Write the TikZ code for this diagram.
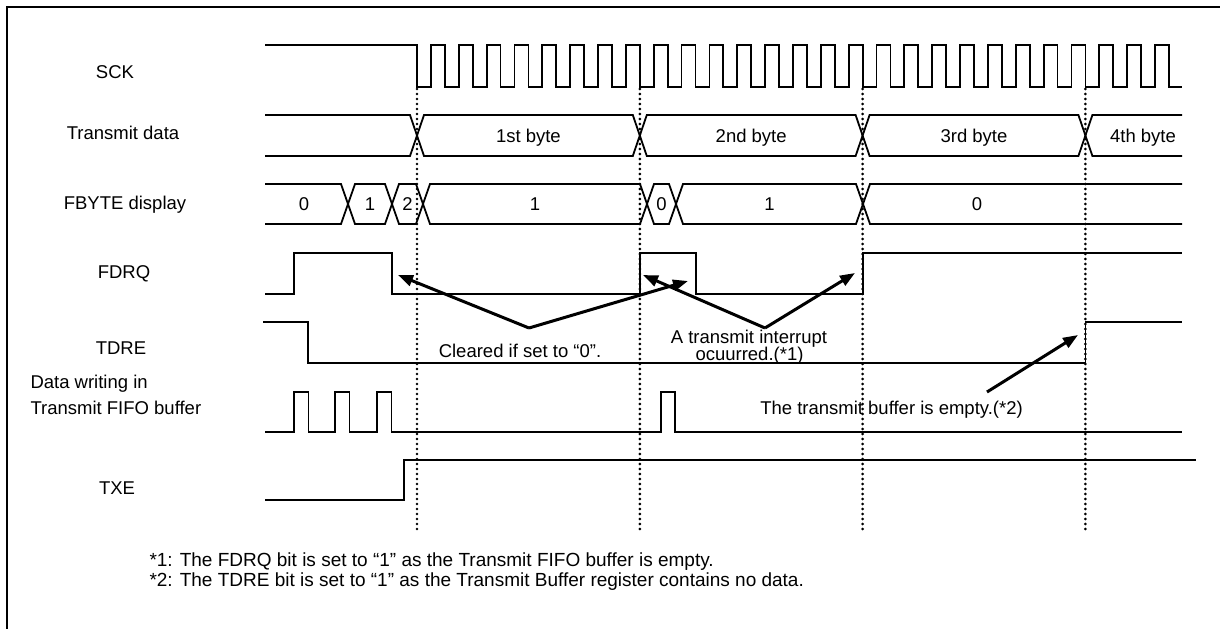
\documentclass[tikz,border=0pt]{standalone}
\usepackage{fontspec}
\setmainfont{Liberation Sans}
\usetikzlibrary{arrows.meta}

\begin{document}
\begin{tikzpicture}[x=1pt,y=-1pt,font=\fontsize{18.5}{21}\selectfont,
  sig/.style={line width=1.8pt,line join=miter},
  frame/.style={line width=2pt},
  grid/.style={line width=2.9pt,dash pattern=on 0pt off 5pt,line cap=round},
  note/.style={line width=3pt,-{Triangle[length=15pt,width=11pt]}},
  lbl/.style={anchor=base},
  foot/.style={anchor=base west,font=\fontsize{19}{21}\selectfont}]
\useasboundingbox (0,0) rectangle (1220,629);
\draw[frame] (1220,7) -- (7,7) -- (7,629);
\node[lbl] (sck) at (115,78.6) {SCK};
\node[lbl] (txd) at (123,139.6) {Transmit data};
\node[lbl] (fbyte) at (125,209.6) {FBYTE display};
\node[lbl] (fdrq) at (124,278.6) {FDRQ};
\node[lbl] (tdre) at (121,354.6) {TDRE};
\node[anchor=base west] (dw1) at (27,388.6) {Data writing in};
\node[anchor=base west] (dw2) at (27,414.6) {Transmit FIFO buffer};
\node[lbl] (txe) at (117,494.6) {TXE};
\draw[sig] (265,45) -- (417,45) -- (417,87) foreach \k in {1,...,27} { -- ++(13.925,0) -- ++(0,-42) -- ++(13.925,0) -- ++(0,42) } -- (1182,87);
\draw[sig] (265,115) -- (410,115) -- (417,135.5) -- (410,156) -- (265,156);
\foreach \a/\b/\t/\n in {417/639.8/1st byte/b1, 639.8/862.6/2nd byte/b2, 862.6/1085.4/3rd byte/b3} {
  \draw[sig] (\a,135.5) -- ({\a+7},115) -- ({\b-7},115) -- (\b,135.5) -- ({\b-7},156) -- ({\a+7},156) -- cycle;
  \node[lbl] (\n) at ({(\a+\b)/2},142) {\t};
}
\draw[sig] (1182,115) -- (1092.4,115) -- (1085.4,135.5) -- (1092.4,156) -- (1182,156);
\node[lbl] (b4) at (1143,142) {4th byte};
\draw[sig] (265,184) -- (341,184) -- (348,204) -- (341,224) -- (265,224);
\node[lbl] (f0) at (304,210) {0};
\foreach \a/\b/\v/\n in {348/392/1/f1, 392/423/2/f2, 423/647/1/f3, 647/676/0/f4, 676/863/1/f5} {
  \draw[sig] (\a,204) -- ({\a+7},184) -- ({\b-7},184) -- (\b,204) -- ({\b-7},224) -- ({\a+7},224) -- cycle;
  \node[lbl] (\n) at ({(\a+\b)/2},210) {\v};
}
\draw[sig] (1182,184) -- (870,184) -- (863,204) -- (870,224) -- (1182,224);
\node[lbl] (f6) at (977,210) {0};
\draw[sig] (265,294) -- (294,294) -- (294,253) -- (392,253) -- (392,294) -- (639.8,294) -- (639.8,253) -- (696,253) -- (696,294) -- (862.6,294) -- (862.6,253) -- (1182,253);
\draw[sig] (263,322) -- (308,322) -- (308,363) -- (1085.4,363) -- (1085.4,322) -- (1182,322);
\draw[sig] (265,432) foreach \x in {294,335,377} { -- (\x,432) -- (\x,392) -- ({\x+14.5},392) -- ({\x+14.5},432) } -- (661,432) -- (661,392) -- (675,392) -- (675,432) -- (1182,432);
\draw[sig] (265,500) -- (404,500) -- (404,460) -- (1196,460);
\foreach \x in {417,639.8,862.6,1085.4}
  \draw[grid] (\x,89) -- (\x,533);
\coordinate (clrv) at (529,328);
\coordinate (irqv) at (765,328);
\coordinate (empv) at (987,392);
\coordinate (fdrq1) at (398,275);
\coordinate (fdrq2) at (688,281);
\coordinate (fdrq3) at (643,275);
\coordinate (fdrq4) at (855,273);
\coordinate (tdre1) at (1078,335);
\draw[note] (clrv) -- (fdrq1);
\draw[note] (clrv) -- (fdrq2);
\draw[note] (irqv) -- (fdrq3);
\draw[note] (irqv) -- (fdrq4);
\draw[note] (empv) -- (tdre1);
\node[lbl] (clr) at (520,357.6) {Cleared if set to “0”.};
\node[lbl] (irq1) at (749,343.6) {A transmit interrupt};
\node[lbl] (irq2) at (749.5,360.6) {ocuurred.(*1)};
\node[lbl] (emp) at (891.5,414.6) {The transmit buffer is empty.(*2)};
\node[foot] (fn1) at (146,566.6) {*1: The FDRQ bit is set to “1” as the Transmit FIFO buffer is empty.};
\node[foot] (fn2) at (146,586.6) {*2: The TDRE bit is set to “1” as the Transmit Buffer register contains no data.};
\end{tikzpicture}
\end{document}
